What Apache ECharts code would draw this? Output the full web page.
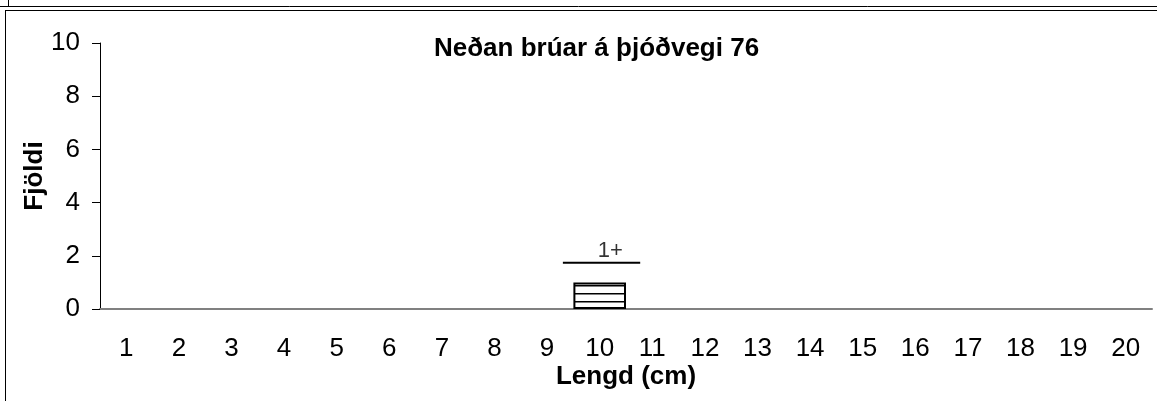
<!DOCTYPE html>
<html>
<head>
<meta charset="utf-8">
<script src="https://cdn.jsdelivr.net/npm/echarts@6/dist/echarts.min.js"></script>
<style>
  html, body { margin: 0; padding: 0; background: #fff; }
  #ChartDom { width: 1157px; height: 401px; }
</style>
</head>
<body>
<div id="ChartDom"></div>
<script>
// data
const categories = ["1", "2", "3", "4", "5", "6", "7", "8", "9", "10",
  "11", "12", "13", "14", "15", "16", "17", "18", "19", "20"]
const counts = [0, 0, 0, 0, 0, 0, 0, 0, 0, 1, 0, 0, 0, 0, 0, 0, 0, 0, 0, 0]
const yTicks = [0, 2, 4, 6, 8, 10]
// age group bracket: x in category units (1..20), height in count units
const ageGroupX = [9.3, 10.77]
const ageGroupY = 1.74
const ageGroupLabel = "1+"
const ageGroupLabelX = 10.2

const chartTitle = "Neðan brúar á þjóðvegi 76"
const xName = "Lengd (cm)"
const yName = "Fjöldi"

// horizontal hatch fill for the bar
function hatch() {
  const c = document.createElement("canvas")
  c.width = 8
  c.height = 8
  const ctx = c.getContext("2d")
  ctx.fillStyle = "#fff"
  ctx.fillRect(0, 0, 8, 8)
  ctx.fillStyle = "#000"
  ctx.fillRect(0, 5, 8, 1.5)
  return c
}

const chartDom = document.getElementById("ChartDom")
const myChart = echarts.init(chartDom, null, { renderer: "canvas" })
const font = "Liberation Sans, Arial, sans-serif"

let option = {
  animation: false,
  textStyle: { fontFamily: font },
  title: {
    text: chartTitle,
    left: 429,
    top: 31,
    textStyle: { fontSize: 26, fontWeight: "bold", color: "#000", fontFamily: font },
  },
  grid: { left: 100, right: 5, top: 43, bottom: 92, containLabel: false },
  xAxis: [
    {
      type: "category",
      data: categories,
      name: xName,
      nameLocation: "middle",
      nameGap: 55,
      nameMoveOverlap: false,
      nameTextStyle: { fontSize: 26, fontWeight: "bold", color: "#000" },
      axisLine: { lineStyle: { color: "#808080", width: 2 } },
      axisTick: { length: 6, lineStyle: { color: "#000", width: 1 } },
      axisLabel: { fontSize: 26, color: "#000", margin: 27 },
      splitLine: { show: false },
    },
    {
      type: "value",
      min: 0.5,
      max: 20.5,
      show: false,
    },
  ],
  yAxis: {
    type: "value",
    min: yTicks[0],
    max: yTicks[yTicks.length - 1],
    interval: 2,
    name: yName,
    nameLocation: "middle",
    nameGap: 52,
    nameMoveOverlap: false,
    nameTextStyle: { fontSize: 26, fontWeight: "bold", color: "#000" },
    axisLine: { show: true, lineStyle: { color: "#000", width: 1 } },
    axisTick: { show: true, length: 8, lineStyle: { color: "#000" } },
    axisLabel: { fontSize: 26, color: "#000", margin: 20 },
    splitLine: { show: false },
  },
  series: [
    {
      type: "bar",
      xAxisIndex: 0,
      data: counts.map((v) => (v > 0 ? v : null)),
      barWidth: "100%",
      itemStyle: {
        color: { image: hatch(), repeat: "repeat" },
        borderColor: "#000",
        borderWidth: 2,
      },
    },
    {
      type: "line",
      xAxisIndex: 1,
      data: ageGroupX.map((x) => [x, ageGroupY]),
      symbol: "none",
      lineStyle: { color: "#000", width: 2 },
    },
    {
      type: "scatter",
      xAxisIndex: 1,
      data: [[ageGroupLabelX, ageGroupY]],
      symbolSize: 0,
      label: {
        show: true,
        position: "top",
        distance: 1,
        formatter: ageGroupLabel,
        fontSize: 22,
        color: "#000",
      },
    },
  ],
  graphic: [
    // frame of this chart and the bottom of the one above it
    { type: "line", shape: { x1: 0, y1: 6.5, x2: 1157, y2: 6.5 }, style: { stroke: "#000", lineWidth: 1 } },
    { type: "line", shape: { x1: 8.5, y1: 0, x2: 8.5, y2: 6.5 }, style: { stroke: "#000", lineWidth: 1 } },
    { type: "line", shape: { x1: 5, y1: 10.5, x2: 1157, y2: 10.5 }, style: { stroke: "#000", lineWidth: 1 } },
    { type: "line", shape: { x1: 5.5, y1: 10.5, x2: 5.5, y2: 401 }, style: { stroke: "#000", lineWidth: 1 } },
  ],
}
myChart.setOption(option)
</script>
</body>
</html>
